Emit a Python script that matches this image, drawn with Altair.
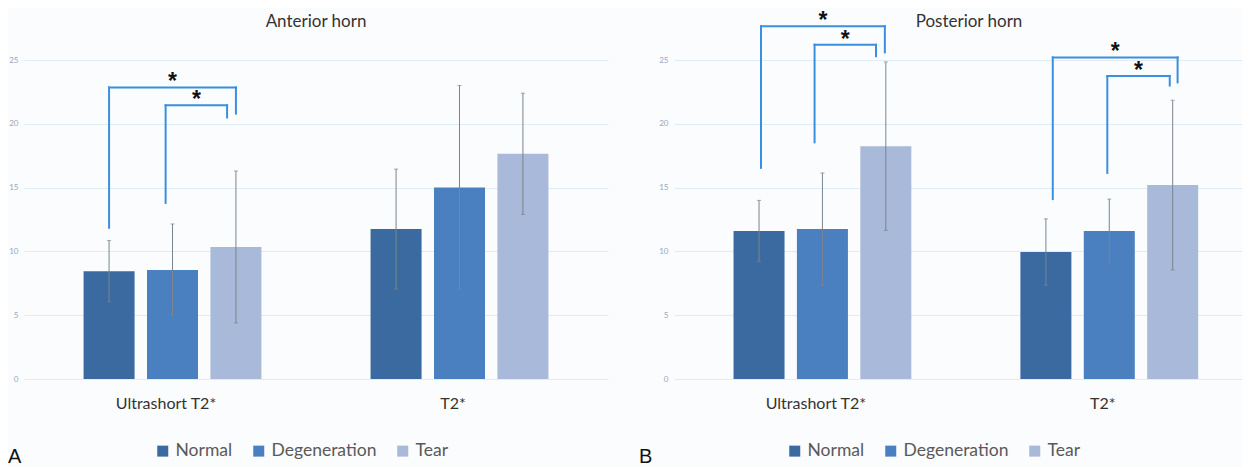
import altair as alt
import pandas as pd
import json

# ---------------- data ----------------
groups = ["Ultrashort T2*", "T2*"]
series = ["Normal", "Degeneration", "Tear"]
colors = ["#3a6a9f", "#4a7fc0", "#a8b9d9"]
y_ticks = [0, 5, 10, 15, 20, 25]

anterior_mean = [8.45, 8.55, 10.35, 11.75, 15.0, 17.65]
anterior_sd = [2.4, 3.6, 5.95, 4.7, 8.0, 4.75]
posterior_mean = [11.6, 11.75, 18.25, 9.95, 11.6, 15.2]
posterior_sd = [2.4, 4.4, 6.6, 2.6, 2.5, 6.65]

# significance brackets
ant_br_group = ["Ultrashort T2*", "Ultrashort T2*"]
ant_br_from = ["Normal", "Degeneration"]
ant_br_to = ["Tear", "Tear"]
ant_br_top = [22.85, 21.45]
ant_br_left_end = [11.85, 13.8]
ant_br_right_end = [20.8, 20.5]

post_br_group = ["Ultrashort T2*", "Ultrashort T2*", "T2*", "T2*"]
post_br_from = ["Normal", "Degeneration", "Normal", "Degeneration"]
post_br_to = ["Tear", "Tear", "Tear", "Tear"]
post_br_top = [27.65, 26.2, 25.2, 23.75]
post_br_left_end = [16.55, 18.55, 14.1, 16.15]
post_br_right_end = [25.6, 25.3, 23.25, 23.0]

# ---------------- layout / style ----------------
PX = 292.0          # pixels per group step
STEP = 0.221        # bar step within group (group units)
H = 370
Y_MAX = 29
ant_shift = [(0, 0), (-7, -9)]
post_shift = [(2, -1), (-8, -10), (7, 5), (-2, -3)]
FONT = "Lato"


def panel(mean, sd, bg, bf, bt, btop, blend, brend, shifts, title, letter,
          width, title_x, legend_x, letter_x):
    xmax = 0.5 + width / PX

    def pos(g, s):
        return groups.index(g) + 1 + (series.index(s) - 1) * STEP

    rows = []
    for gi, g in enumerate(groups):
        for si, s in enumerate(series):
            k = gi * 3 + si
            rows.append(dict(group=g, series=s, pos=pos(g, s), mean=mean[k],
                             lo=mean[k] - sd[k], hi=mean[k] + sd[k]))
    df = pd.DataFrame(rows)

    seg, stars = [], []
    for i in range(len(bg)):
        xl = pos(bg[i], bf[i]) + shifts[i][0] / PX
        xr = pos(bg[i], bt[i]) + shifts[i][1] / PX
        seg += [dict(x=xl, x2=xr, y=btop[i], y2=btop[i]),
                dict(x=xl, x2=xl, y=blend[i], y2=btop[i]),
                dict(x=xr, x2=xr, y=brend[i], y2=btop[i])]
        stars.append(dict(x=(xl + xr) / 2, y=btop[i], t="*"))
    segdf = pd.DataFrame(seg)
    stardf = pd.DataFrame(stars)

    xscale = alt.Scale(domain=[0.5, xmax], nice=False, zero=False)
    yscale = alt.Scale(domain=[0, Y_MAX], nice=False)
    xaxis = alt.Axis(values=[1, 2], labelExpr=f"{json.dumps(groups)}[datum.value - 1]",
                     grid=False, ticks=False, domain=False, labelPadding=16,
                     labelOffset=-7, labelFontSize=16, labelColor="#333333",
                     labelFont=FONT, title=None)
    yaxis = alt.Axis(values=y_ticks, grid=True, gridColor="#e3ebf3", ticks=False,
                     domain=False, labelFontSize=8, labelColor="#93a6bf",
                     labelPadding=6, labelFont=FONT, title=None)

    def X(f):
        return alt.X(f"{f}:Q", scale=xscale, axis=xaxis)

    def Y(f):
        return alt.Y(f"{f}:Q", scale=yscale, axis=yaxis)

    bars = alt.Chart(df).mark_bar(size=51).encode(
        x=X("pos"), y=Y("mean"),
        color=alt.Color("series:N", scale=alt.Scale(domain=series, range=colors),
                        legend=alt.Legend(orient="none", legendX=legend_x, legendY=433,
                                          direction="horizontal", title=None,
                                          symbolType="square", symbolSize=121,
                                          symbolStrokeWidth=0, labelFontSize=17.5,
                                          labelColor="#595959", labelFont=FONT,
                                          columnPadding=17, labelOffset=4)))
    err = alt.Chart(df).mark_rule(color="#7a858f", strokeWidth=1).encode(
        x=X("pos"), y=Y("lo"), y2="hi")
    cap_lo = alt.Chart(df).mark_tick(orient="horizontal", size=4, thickness=1,
                                     color="#7a858f").encode(x=X("pos"), y=Y("lo"))
    cap_hi = alt.Chart(df).mark_tick(orient="horizontal", size=4, thickness=1,
                                     color="#7a858f").encode(x=X("pos"), y=Y("hi"))
    brk = alt.Chart(segdf).mark_rule(color="#3b8fdf", strokeWidth=2, strokeCap="square").encode(
        x=X("x"), x2="x2", y=Y("y"), y2="y2")
    st = alt.Chart(stardf).mark_text(fontSize=23, fontWeight="bold", font="Liberation Sans",
                                     color="#111111", baseline="alphabetic", dy=2).encode(
        x=X("x"), y=Y("y"), text="t")
    ttl = alt.Chart(pd.DataFrame({"t": [title]})).mark_text(
        fontSize=17, font=FONT, color="#333333", baseline="middle").encode(
        x=alt.value(title_x), y=alt.value(13), text="t")
    let = alt.Chart(pd.DataFrame({"t": [letter]})).mark_text(
        fontSize=20, font="Liberation Sans", color="#111111", align="left",
        baseline="alphabetic").encode(x=alt.value(letter_x), y=alt.value(454), text="t")

    return alt.layer(bars, err, cap_lo, cap_hi, brk, st, ttl, let).properties(
        width=width, height=H)


left = panel(anterior_mean, anterior_sd, ant_br_group, ant_br_from, ant_br_to,
             ant_br_top, ant_br_left_end, ant_br_right_end, ant_shift,
             "Anterior horn", "A", 584, 292, 130, -16)
right = panel(posterior_mean, posterior_sd, post_br_group, post_br_from, post_br_to,
              post_br_top, post_br_left_end, post_br_right_end, post_shift,
              "Posterior horn", "B", 568, 295, 112, -35)

chart = alt.hconcat(left, right, spacing=66, bounds="flush").resolve_scale(
    color="independent", x="independent", y="independent").resolve_legend(
    color="independent").properties(
    background="#fbfcfd", padding={"left": 0, "top": 1, "right": 0, "bottom": 0}
).configure_view(stroke=None)

chart.save("out.html", embed_options={"renderer": "svg", "actions": False})
